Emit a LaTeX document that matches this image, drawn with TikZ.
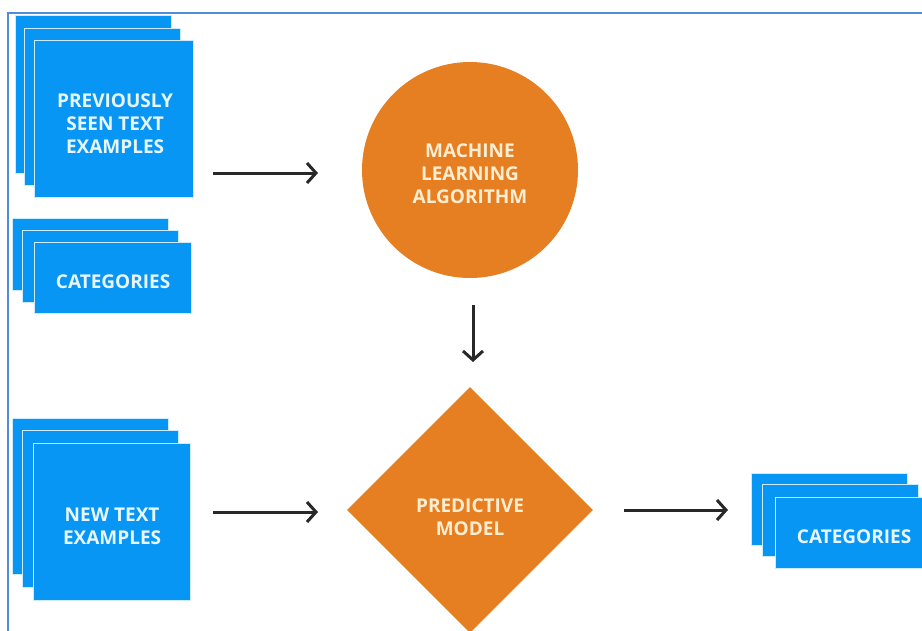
\documentclass[tikz,border=0pt]{standalone}
\usepackage{fontspec}
\setmainfont{Open Sans}
\usetikzlibrary{arrows.meta,shapes.geometric}
\definecolor{boxblue}{RGB}{8,150,245}
\definecolor{mlorange}{RGB}{230,126,34}
\definecolor{framebl}{RGB}{80,140,215}
\definecolor{arrowgray}{RGB}{40,40,40}
\definecolor{bluetext}{RGB}{232,246,255}
\definecolor{creamtext}{RGB}{255,238,210}
\begin{document}
\begin{tikzpicture}[x=1pt,y=-1pt,
  sheet/.style={fill=boxblue, draw=white!80!boxblue, line width=1.2pt,
    anchor=north west, inner sep=0pt, minimum width=#1},
  sheet/.default=156pt,
  lbl/.style={font=\bfseries\fontsize{19}{23}\selectfont, align=center,
    inner sep=0pt},
  bluelbl/.style={lbl, text=bluetext},
  orangelbl/.style={lbl, text=creamtext},
  flow/.style={draw=arrowgray, line width=3pt,
    -{Straight Barb[length=9pt,width=20pt,line width=3pt]}}]
\useasboundingbox (0,0) rectangle (922,630);

% page frame
\draw[framebl, line width=1.6pt] (8,632) -- (8,13) -- (924,13);

% previously seen text examples
\node[sheet, minimum height=158pt] (pse1) at (15,15) {};
\node[sheet, minimum height=157pt] (pse2) at (24,28) {};
\node[sheet=159pt, minimum height=157pt] (pse3) at (34,40) {};
\node[bluelbl] (psetxt) at ([xshift=1pt,yshift=-5pt]pse3.center)
  {PREVIOUSLY\\SEEN TEXT\\EXAMPLES};

% categories (training)
\node[sheet, minimum height=72pt] (cat1) at (12,218) {};
\node[sheet, minimum height=72pt] (cat2) at (22,230) {};
\node[sheet=157pt, minimum height=71pt] (cat3) at (34,242) {};
\node[bluelbl] (cattxt) at ([yshift=-4pt]cat3.center) {CATEGORIES};

% new text examples
\node[sheet, minimum height=156pt] (nte1) at (12,418) {};
\node[sheet, minimum height=157pt] (nte2) at (22,430) {};
\node[sheet=157pt, minimum height=157pt] (nte3) at (33,443) {};
\node[bluelbl] (ntetxt) at ([yshift=-4pt]nte3.center) {NEW TEXT\\EXAMPLES};

% predicted categories
\node[sheet, minimum height=72pt] (out1) at (751,473) {};
\node[sheet, minimum height=72pt] (out2) at (762,484) {};
\node[sheet=157pt, minimum height=71pt] (out3) at (775,497) {};
\node[bluelbl] (outtxt) at ([yshift=-4pt]out3.center) {CATEGORIES};

% machine learning algorithm
\node[circle, fill=mlorange, minimum size=216pt, inner sep=0pt]
  (mla) at (470,170) {};
\node[orangelbl] (mlatxt) at ([yshift=-4pt]mla.center)
  {MACHINE\\LEARNING\\ALGORITHM};

% predictive model
\node[diamond, fill=mlorange, minimum width=246pt, minimum height=246pt,
  inner sep=0pt] (pm) at (470,510) {};
\node[orangelbl] (pmtxt) at ([yshift=-7pt]pm.center) {PREDICTIVE\\MODEL};

% arrow end points
\coordinate (a1s) at (213,173);
\coordinate (a1e) at (318,173);
\coordinate (a2s) at (473,305);
\coordinate (a2e) at (473,362);
\coordinate (a3s) at (213,512);
\coordinate (a3e) at (318,512);
\coordinate (a4s) at (624,510);
\coordinate (a4e) at (728,510);

\draw[flow] (a1s) -- (a1e);
\draw[flow] (a2s) -- (a2e);
\draw[flow] (a3s) -- (a3e);
\draw[flow] (a4s) -- (a4e);
\end{tikzpicture}
\end{document}
